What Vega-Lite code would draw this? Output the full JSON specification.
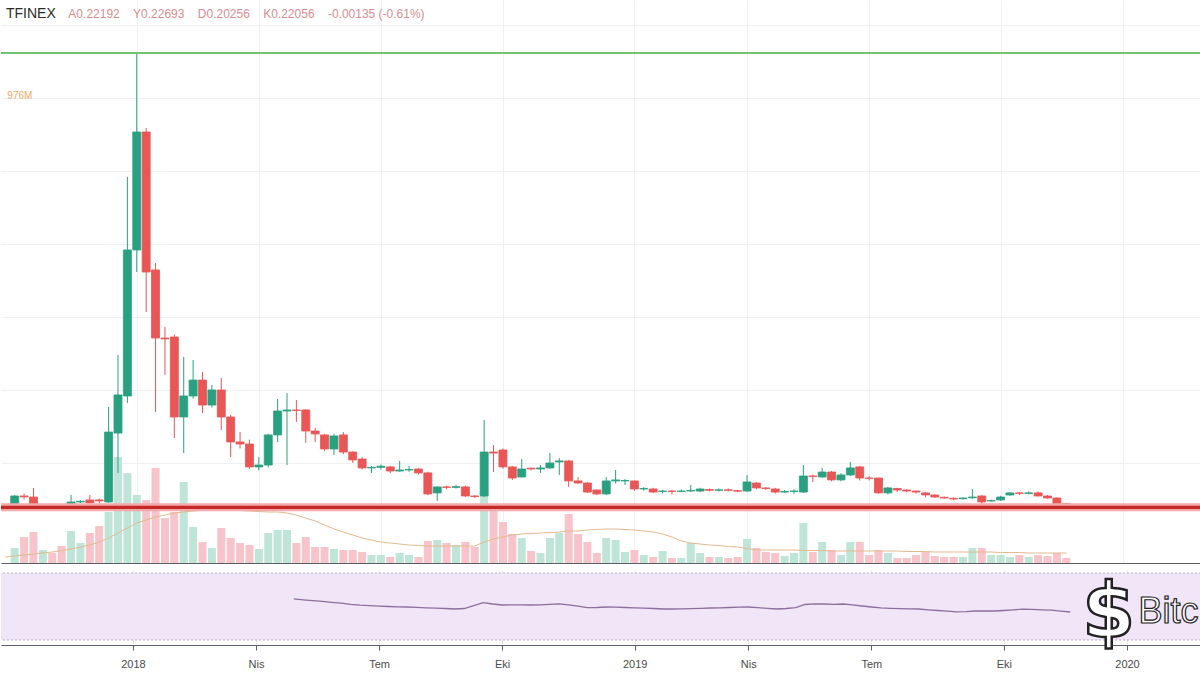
{
"$schema":"https://vega.github.io/schema/vega-lite/v6.json",
"padding":0,
"background":"white",
"config":{"view":{"stroke":null},"font":"Liberation Sans"},
"spacing":7,
"datasets":{
"candles":[
{"d":"2017-09-25","o":null,"h":null,"l":null,"c":null,"v":null,"ma":24},
{"d":"2017-10-02","o":0.219,"h":0.280,"l":0.212,"c":0.274,"v":60,"ma":28},
{"d":"2017-10-09","o":0.274,"h":0.290,"l":0.250,"c":0.268,"v":104,"ma":32},
{"d":"2017-10-16","o":0.267,"h":0.329,"l":0.195,"c":0.199,"v":124,"ma":36},
{"d":"2017-10-23","o":0.205,"h":0.215,"l":0.198,"c":0.208,"v":52,"ma":40},
{"d":"2017-10-30","o":0.208,"h":0.212,"l":0.200,"c":0.205,"v":40,"ma":44},
{"d":"2017-11-06","o":0.210,"h":0.220,"l":0.198,"c":0.205,"v":68,"ma":50},
{"d":"2017-11-13","o":0.199,"h":0.281,"l":0.195,"c":0.233,"v":128,"ma":56},
{"d":"2017-11-20","o":0.233,"h":0.245,"l":0.226,"c":0.238,"v":80,"ma":64},
{"d":"2017-11-27","o":0.247,"h":0.281,"l":0.220,"c":0.226,"v":120,"ma":72},
{"d":"2017-12-04","o":0.247,"h":0.255,"l":0.225,"c":0.240,"v":148,"ma":84},
{"d":"2017-12-11","o":0.233,"h":0.884,"l":0.226,"c":0.712,"v":204,"ma":100},
{"d":"2017-12-18","o":0.705,"h":1.240,"l":0.432,"c":0.966,"v":424,"ma":120},
{"d":"2017-12-25","o":0.959,"h":2.459,"l":0.911,"c":1.959,"v":360,"ma":140},
{"d":"2018-01-01","o":1.959,"h":3.308,"l":1.808,"c":2.767,"v":272,"ma":160},
{"d":"2018-01-08","o":2.767,"h":2.795,"l":1.534,"c":1.808,"v":252,"ma":172},
{"d":"2018-01-15","o":1.822,"h":1.870,"l":0.849,"c":1.356,"v":380,"ma":184},
{"d":"2018-01-22","o":1.356,"h":1.432,"l":1.103,"c":1.350,"v":180,"ma":192},
{"d":"2018-01-29","o":1.363,"h":1.380,"l":0.671,"c":0.815,"v":204,"ma":200},
{"d":"2018-02-05","o":0.815,"h":1.226,"l":0.568,"c":0.959,"v":324,"ma":204},
{"d":"2018-02-12","o":0.959,"h":1.205,"l":0.940,"c":1.068,"v":144,"ma":208},
{"d":"2018-02-19","o":1.068,"h":1.123,"l":0.842,"c":0.897,"v":84,"ma":210},
{"d":"2018-02-26","o":0.897,"h":1.034,"l":0.880,"c":1.000,"v":60,"ma":212},
{"d":"2018-03-05","o":1.000,"h":1.082,"l":0.726,"c":0.815,"v":140,"ma":212},
{"d":"2018-03-12","o":0.815,"h":0.830,"l":0.541,"c":0.644,"v":100,"ma":212},
{"d":"2018-03-19","o":0.644,"h":0.712,"l":0.600,"c":0.630,"v":80,"ma":210},
{"d":"2018-03-26","o":0.630,"h":0.660,"l":0.460,"c":0.473,"v":72,"ma":208},
{"d":"2018-04-02","o":0.473,"h":0.541,"l":0.450,"c":0.486,"v":56,"ma":206},
{"d":"2018-04-09","o":0.486,"h":0.700,"l":0.470,"c":0.692,"v":120,"ma":204},
{"d":"2018-04-16","o":0.692,"h":0.938,"l":0.644,"c":0.856,"v":132,"ma":204},
{"d":"2018-04-23","o":0.856,"h":0.979,"l":0.486,"c":0.863,"v":132,"ma":200},
{"d":"2018-04-30","o":0.863,"h":0.932,"l":0.781,"c":0.860,"v":80,"ma":192},
{"d":"2018-05-07","o":0.863,"h":0.870,"l":0.637,"c":0.719,"v":104,"ma":180},
{"d":"2018-05-14","o":0.719,"h":0.740,"l":0.644,"c":0.699,"v":64,"ma":168},
{"d":"2018-05-21","o":0.692,"h":0.700,"l":0.580,"c":0.596,"v":64,"ma":152},
{"d":"2018-05-28","o":0.596,"h":0.700,"l":0.555,"c":0.685,"v":56,"ma":136},
{"d":"2018-06-04","o":0.692,"h":0.712,"l":0.560,"c":0.575,"v":52,"ma":124},
{"d":"2018-06-11","o":0.575,"h":0.580,"l":0.500,"c":0.521,"v":52,"ma":112},
{"d":"2018-06-18","o":0.527,"h":0.540,"l":0.455,"c":0.466,"v":44,"ma":100},
{"d":"2018-06-25","o":0.466,"h":0.480,"l":0.432,"c":0.470,"v":32,"ma":92},
{"d":"2018-07-02","o":0.470,"h":0.490,"l":0.455,"c":0.478,"v":32,"ma":84},
{"d":"2018-07-09","o":0.473,"h":0.480,"l":0.430,"c":0.445,"v":24,"ma":80},
{"d":"2018-07-16","o":0.445,"h":0.514,"l":0.440,"c":0.452,"v":40,"ma":76},
{"d":"2018-07-23","o":0.452,"h":0.479,"l":0.440,"c":0.455,"v":32,"ma":72},
{"d":"2018-07-30","o":0.459,"h":0.465,"l":0.420,"c":0.432,"v":24,"ma":70},
{"d":"2018-08-06","o":0.432,"h":0.440,"l":0.280,"c":0.288,"v":88,"ma":68},
{"d":"2018-08-13","o":0.295,"h":0.340,"l":0.240,"c":0.336,"v":92,"ma":68},
{"d":"2018-08-20","o":0.336,"h":0.345,"l":0.320,"c":0.333,"v":80,"ma":68},
{"d":"2018-08-27","o":0.333,"h":0.350,"l":0.325,"c":0.338,"v":72,"ma":68},
{"d":"2018-09-03","o":0.336,"h":0.345,"l":0.268,"c":0.274,"v":84,"ma":68},
{"d":"2018-09-10","o":0.274,"h":0.280,"l":0.260,"c":0.270,"v":64,"ma":68},
{"d":"2018-09-17","o":0.274,"h":0.795,"l":0.267,"c":0.575,"v":292,"ma":84},
{"d":"2018-09-24","o":0.575,"h":0.623,"l":0.438,"c":0.568,"v":220,"ma":96},
{"d":"2018-10-01","o":0.589,"h":0.600,"l":0.460,"c":0.473,"v":164,"ma":104},
{"d":"2018-10-08","o":0.473,"h":0.480,"l":0.384,"c":0.397,"v":116,"ma":112},
{"d":"2018-10-15","o":0.404,"h":0.527,"l":0.400,"c":0.459,"v":100,"ma":116},
{"d":"2018-10-22","o":0.464,"h":0.470,"l":0.450,"c":0.459,"v":48,"ma":118},
{"d":"2018-10-29","o":0.459,"h":0.486,"l":0.432,"c":0.466,"v":40,"ma":120},
{"d":"2018-11-05","o":0.466,"h":0.568,"l":0.460,"c":0.500,"v":100,"ma":122},
{"d":"2018-11-12","o":0.507,"h":0.534,"l":0.418,"c":0.514,"v":120,"ma":124},
{"d":"2018-11-19","o":0.514,"h":0.520,"l":0.336,"c":0.377,"v":196,"ma":128},
{"d":"2018-11-26","o":0.377,"h":0.404,"l":0.355,"c":0.363,"v":116,"ma":128},
{"d":"2018-12-03","o":0.363,"h":0.370,"l":0.295,"c":0.301,"v":84,"ma":132},
{"d":"2018-12-10","o":0.315,"h":0.320,"l":0.280,"c":0.288,"v":40,"ma":134},
{"d":"2018-12-17","o":0.288,"h":0.404,"l":0.280,"c":0.377,"v":100,"ma":136},
{"d":"2018-12-24","o":0.377,"h":0.452,"l":0.360,"c":0.384,"v":92,"ma":136},
{"d":"2018-12-31","o":0.377,"h":0.390,"l":0.350,"c":0.380,"v":44,"ma":134},
{"d":"2019-01-07","o":0.377,"h":0.380,"l":0.310,"c":0.322,"v":52,"ma":132},
{"d":"2019-01-14","o":0.322,"h":0.335,"l":0.310,"c":0.325,"v":32,"ma":128},
{"d":"2019-01-21","o":0.322,"h":0.330,"l":0.295,"c":0.301,"v":24,"ma":124},
{"d":"2019-01-28","o":0.305,"h":0.315,"l":0.290,"c":0.308,"v":48,"ma":116},
{"d":"2019-02-04","o":0.308,"h":0.315,"l":0.285,"c":0.305,"v":20,"ma":104},
{"d":"2019-02-11","o":0.305,"h":0.320,"l":0.300,"c":0.308,"v":20,"ma":88},
{"d":"2019-02-18","o":0.308,"h":0.349,"l":0.300,"c":0.312,"v":80,"ma":80},
{"d":"2019-02-25","o":0.308,"h":0.330,"l":0.300,"c":0.322,"v":40,"ma":76},
{"d":"2019-03-04","o":0.318,"h":0.325,"l":0.305,"c":0.313,"v":24,"ma":72},
{"d":"2019-03-11","o":0.313,"h":0.325,"l":0.305,"c":0.316,"v":24,"ma":70},
{"d":"2019-03-18","o":0.316,"h":0.325,"l":0.305,"c":0.313,"v":20,"ma":66},
{"d":"2019-03-25","o":0.310,"h":0.315,"l":0.300,"c":0.307,"v":24,"ma":64},
{"d":"2019-04-01","o":0.308,"h":0.418,"l":0.300,"c":0.370,"v":96,"ma":58},
{"d":"2019-04-08","o":0.363,"h":0.370,"l":0.320,"c":0.329,"v":60,"ma":52},
{"d":"2019-04-15","o":0.329,"h":0.335,"l":0.315,"c":0.325,"v":44,"ma":52},
{"d":"2019-04-22","o":0.322,"h":0.330,"l":0.290,"c":0.301,"v":40,"ma":52},
{"d":"2019-04-29","o":0.301,"h":0.315,"l":0.295,"c":0.305,"v":28,"ma":52},
{"d":"2019-05-06","o":0.305,"h":0.320,"l":0.290,"c":0.308,"v":40,"ma":52},
{"d":"2019-05-13","o":0.301,"h":0.486,"l":0.295,"c":0.411,"v":160,"ma":50},
{"d":"2019-05-20","o":0.411,"h":0.420,"l":0.370,"c":0.408,"v":44,"ma":50},
{"d":"2019-05-27","o":0.404,"h":0.466,"l":0.400,"c":0.438,"v":84,"ma":50},
{"d":"2019-06-03","o":0.438,"h":0.445,"l":0.375,"c":0.384,"v":52,"ma":48},
{"d":"2019-06-10","o":0.384,"h":0.430,"l":0.375,"c":0.418,"v":32,"ma":48},
{"d":"2019-06-17","o":0.418,"h":0.507,"l":0.410,"c":0.466,"v":84,"ma":48},
{"d":"2019-06-24","o":0.473,"h":0.480,"l":0.380,"c":0.397,"v":84,"ma":48},
{"d":"2019-07-01","o":0.397,"h":0.410,"l":0.380,"c":0.395,"v":32,"ma":48},
{"d":"2019-07-08","o":0.397,"h":0.400,"l":0.290,"c":0.295,"v":52,"ma":48},
{"d":"2019-07-15","o":0.295,"h":0.335,"l":0.285,"c":0.329,"v":40,"ma":48},
{"d":"2019-07-22","o":0.325,"h":0.330,"l":0.300,"c":0.315,"v":20,"ma":48},
{"d":"2019-07-29","o":0.315,"h":0.320,"l":0.300,"c":0.308,"v":20,"ma":46},
{"d":"2019-08-05","o":0.308,"h":0.310,"l":0.290,"c":0.301,"v":32,"ma":46},
{"d":"2019-08-12","o":0.295,"h":0.300,"l":0.265,"c":0.281,"v":44,"ma":46},
{"d":"2019-08-19","o":0.281,"h":0.285,"l":0.260,"c":0.267,"v":28,"ma":44},
{"d":"2019-08-26","o":0.265,"h":0.270,"l":0.255,"c":0.260,"v":24,"ma":44},
{"d":"2019-09-02","o":0.258,"h":0.265,"l":0.245,"c":0.253,"v":24,"ma":44},
{"d":"2019-09-09","o":0.255,"h":0.265,"l":0.250,"c":0.260,"v":24,"ma":44},
{"d":"2019-09-16","o":0.262,"h":0.322,"l":0.255,"c":0.267,"v":60,"ma":44},
{"d":"2019-09-23","o":0.274,"h":0.280,"l":0.220,"c":0.233,"v":60,"ma":44},
{"d":"2019-09-30","o":0.240,"h":0.250,"l":0.235,"c":0.242,"v":32,"ma":44},
{"d":"2019-10-07","o":0.247,"h":0.275,"l":0.240,"c":0.267,"v":32,"ma":42},
{"d":"2019-10-14","o":0.281,"h":0.300,"l":0.275,"c":0.295,"v":24,"ma":42},
{"d":"2019-10-21","o":0.295,"h":0.300,"l":0.280,"c":0.292,"v":32,"ma":42},
{"d":"2019-10-28","o":0.292,"h":0.305,"l":0.285,"c":0.295,"v":24,"ma":40},
{"d":"2019-11-04","o":0.295,"h":0.305,"l":0.270,"c":0.274,"v":32,"ma":40},
{"d":"2019-11-11","o":0.274,"h":0.280,"l":0.255,"c":0.260,"v":28,"ma":40},
{"d":"2019-11-18","o":0.260,"h":0.265,"l":0.215,"c":0.222,"v":40,"ma":40},
{"d":"2019-11-25","o":0.22192,"h":0.22693,"l":0.20256,"c":0.22056,"v":20,"ma":40}
],
"rsi":[
{"d":"2018-04-30","r":54.5},{"d":"2018-05-07","r":54.0},{"d":"2018-05-14","r":53.5},{"d":"2018-05-21","r":53.0},
{"d":"2018-05-28","r":52.5},{"d":"2018-06-04","r":52.0},{"d":"2018-06-11","r":51.3},{"d":"2018-06-18","r":50.8},
{"d":"2018-06-25","r":50.5},{"d":"2018-07-02","r":50.2},{"d":"2018-07-09","r":50.0},{"d":"2018-07-16","r":49.8},
{"d":"2018-07-23","r":49.7},{"d":"2018-07-30","r":49.5},{"d":"2018-08-06","r":49.2},{"d":"2018-08-13","r":49.0},
{"d":"2018-08-20","r":48.8},{"d":"2018-08-27","r":48.5},{"d":"2018-09-03","r":48.8},{"d":"2018-09-10","r":50.5},
{"d":"2018-09-17","r":52.3},{"d":"2018-09-24","r":51.5},{"d":"2018-10-01","r":50.9},{"d":"2018-10-08","r":51.0},
{"d":"2018-10-15","r":51.0},{"d":"2018-10-22","r":50.9},{"d":"2018-10-29","r":51.0},{"d":"2018-11-05","r":51.3},
{"d":"2018-11-12","r":51.6},{"d":"2018-11-19","r":51.0},{"d":"2018-11-26","r":50.2},{"d":"2018-12-03","r":49.3},
{"d":"2018-12-10","r":49.4},{"d":"2018-12-17","r":49.7},{"d":"2018-12-24","r":49.6},{"d":"2018-12-31","r":49.4},
{"d":"2019-01-07","r":49.2},{"d":"2019-01-14","r":49.0},{"d":"2019-01-21","r":48.8},{"d":"2019-01-28","r":48.5},
{"d":"2019-02-04","r":48.5},{"d":"2019-02-11","r":48.6},{"d":"2019-02-18","r":48.7},{"d":"2019-02-25","r":48.9},
{"d":"2019-03-04","r":49.1},{"d":"2019-03-11","r":49.2},{"d":"2019-03-18","r":49.4},{"d":"2019-03-25","r":49.6},
{"d":"2019-04-01","r":49.7},{"d":"2019-04-08","r":49.3},{"d":"2019-04-15","r":48.9},{"d":"2019-04-22","r":48.5},
{"d":"2019-04-29","r":48.8},{"d":"2019-05-06","r":49.3},{"d":"2019-05-13","r":51.2},{"d":"2019-05-20","r":51.6},
{"d":"2019-05-27","r":51.5},{"d":"2019-06-03","r":51.3},{"d":"2019-06-10","r":51.5},{"d":"2019-06-17","r":51.0},
{"d":"2019-06-24","r":50.3},{"d":"2019-07-01","r":49.7},{"d":"2019-07-08","r":49.2},{"d":"2019-07-15","r":48.9},
{"d":"2019-07-22","r":48.7},{"d":"2019-07-29","r":48.6},{"d":"2019-08-05","r":48.5},{"d":"2019-08-12","r":48.0},
{"d":"2019-08-19","r":47.6},{"d":"2019-08-26","r":47.2},{"d":"2019-09-02","r":46.8},{"d":"2019-09-09","r":46.9},
{"d":"2019-09-16","r":47.3},{"d":"2019-09-23","r":47.3},{"d":"2019-09-30","r":47.3},{"d":"2019-10-07","r":47.6},
{"d":"2019-10-14","r":48.0},{"d":"2019-10-21","r":48.4},{"d":"2019-10-28","r":48.3},{"d":"2019-11-04","r":48.0},
{"d":"2019-11-11","r":47.8},{"d":"2019-11-18","r":47.2},{"d":"2019-11-25","r":46.7}
]
},
"vconcat":[
{
"width":1200,"height":563,
"layer":[
{
"data":{"name":"candles"},
"layer":[
{"mark":{"type":"bar","width":8,"clip":true},
 "encoding":{
  "x":{"field":"d","type":"temporal","scale":{"type":"utc","domain":[{"year":2017,"month":9,"date":25,"hours":12,"utc":true},{"year":2020,"month":2,"date":29,"hours":17,"utc":true}]},
       "axis":{"values":[{"year":2018,"month":1,"date":1,"utc":true},{"year":2018,"month":4,"date":2,"utc":true},{"year":2018,"month":7,"date":2,"utc":true},{"year":2018,"month":10,"date":1,"utc":true},{"year":2019,"month":1,"date":7,"utc":true},{"year":2019,"month":4,"date":1,"utc":true},{"year":2019,"month":7,"date":1,"utc":true},{"year":2019,"month":10,"date":7,"utc":true},{"year":2020,"month":1,"date":6,"utc":true}],
               "labels":false,"ticks":false,"domain":true,"domainColor":"#5d606b","grid":true,"gridColor":"#eef0f3","title":null}},
  "y":{"field":"v","type":"quantitative","scale":{"domain":[0,2252],"nice":false,"zero":true},"axis":null},
  "color":{"condition":{"test":"datum.c >= datum.o","value":"#bfe5d8"},"value":"#f6c4ca"}
 }},
{"mark":{"type":"line","color":"#e4b98e","strokeWidth":1,"clip":true},
 "encoding":{
  "x":{"field":"d","type":"temporal"},
  "y":{"field":"ma","type":"quantitative"}
 }}
]
},
{
"layer":[
{"data":{"name":"candles"},
 "mark":{"type":"rule","strokeWidth":1,"clip":true},
 "encoding":{
  "x":{"field":"d","type":"temporal"},
  "y":{"field":"l","type":"quantitative","scale":{"domain":[-0.185,3.671],"nice":false,"zero":false},
       "axis":{"values":[0.5,1,1.5,2,2.5,3,3.5],"labels":false,"ticks":false,"domain":false,"grid":true,"gridColor":"#eef0f3","title":null}},
  "y2":{"field":"h"},
  "color":{"condition":{"test":"datum.c >= datum.o","value":"#29a080"},"value":"#e85656"}
 }},
{"data":{"name":"candles"},
 "mark":{"type":"bar","width":8,"strokeWidth":0.8,"clip":true},
 "encoding":{
  "x":{"field":"d","type":"temporal"},
  "y":{"field":"o","type":"quantitative"},
  "y2":{"field":"c"},
  "fill":{"condition":{"test":"datum.c >= datum.o","value":"#29a080"},"value":"#e85656"},
  "stroke":{"condition":{"test":"datum.c >= datum.o","value":"#29a080"},"value":"#e85656"}
 }},
{"data":{"values":[{}]},
 "mark":{"type":"rect","color":"#f4a9a9"},
 "encoding":{"y":{"datum":0.2234,"type":"quantitative"},"y2":{"datum":0.1686}}},
{"data":{"values":[{}]},
 "mark":{"type":"rect","color":"#c62828"},
 "encoding":{"y":{"datum":0.2063,"type":"quantitative"},"y2":{"datum":0.1857}}},
{"data":{"values":[{}]},
 "mark":{"type":"rect","color":"#72c472"},
 "encoding":{"y":{"datum":3.315,"type":"quantitative"},"y2":{"datum":3.301}}},
{"data":{"values":[{}]},
 "mark":{"type":"text","text":"TFINEX","align":"left","baseline":"middle","fontSize":14,"color":"#2b2b2b"},
 "encoding":{"x":{"datum":{"year":2017,"month":9,"date":25,"hours":12,"utc":true},"type":"temporal"},"y":{"datum":3.575,"type":"quantitative"}}},
{"data":{"values":[{}]},
 "mark":{"type":"text","text":"A0.22192\u00a0\u00a0\u00a0\u00a0Y0.22693\u00a0\u00a0\u00a0\u00a0D0.20256\u00a0\u00a0\u00a0\u00a0K0.22056\u00a0\u00a0\u00a0\u00a0-0.00135 (-0.61%)","align":"left","baseline":"middle","fontSize":12,"color":"#d98c90"},
 "encoding":{"x":{"datum":{"year":2017,"month":11,"date":11,"utc":true},"type":"temporal"},"y":{"datum":3.575,"type":"quantitative"}}},
{"data":{"values":[{}]},
 "mark":{"type":"text","text":"976M","align":"left","baseline":"middle","fontSize":10,"color":"#f0a868"},
 "encoding":{"x":{"datum":{"year":2017,"month":9,"date":26,"hours":12,"utc":true},"type":"temporal"},"y":{"datum":3.014,"type":"quantitative"}}}
]
}
],
"resolve":{"scale":{"y":"independent"}}
},
{
"width":1200,"height":75,
"layer":[
{"data":{"values":[{}]},
 "mark":{"type":"rect","color":"#f1e5f8"},
 "encoding":{"y":{"datum":70,"type":"quantitative","scale":{"domain":[27,71.8],"nice":false,"zero":false},"axis":{"labels":false,"ticks":false,"domain":false,"grid":false,"title":null}},"y2":{"datum":30}}},
{"data":{"values":[{}]},
 "mark":{"type":"rule","color":"#b9aac4","strokeWidth":1,"strokeDash":[2,2]},
 "encoding":{"y":{"datum":70,"type":"quantitative"}}},
{"data":{"values":[{}]},
 "mark":{"type":"rule","color":"#b9aac4","strokeWidth":1,"strokeDash":[2,2]},
 "encoding":{"y":{"datum":30,"type":"quantitative"}}},
{"data":{"name":"rsi"},
 "mark":{"type":"line","color":"#8c6f9c","strokeWidth":1.3},
 "encoding":{
  "x":{"field":"d","type":"temporal","scale":{"type":"utc","domain":[{"year":2017,"month":9,"date":25,"hours":12,"utc":true},{"year":2020,"month":2,"date":29,"hours":17,"utc":true}]},
       "axis":{"values":[{"year":2018,"month":1,"date":1,"utc":true},{"year":2018,"month":4,"date":2,"utc":true},{"year":2018,"month":7,"date":2,"utc":true},{"year":2018,"month":10,"date":1,"utc":true},{"year":2019,"month":1,"date":7,"utc":true},{"year":2019,"month":4,"date":1,"utc":true},{"year":2019,"month":7,"date":1,"utc":true},{"year":2019,"month":10,"date":7,"utc":true},{"year":2020,"month":1,"date":6,"utc":true}],
               "labelExpr":"utcmonth(datum.value) == 0 ? utcFormat(datum.value, '%Y') : utcmonth(datum.value) == 3 ? 'Nis' : utcmonth(datum.value) == 6 ? 'Tem' : 'Eki'",
               "title":null,"grid":true,"gridColor":"#ebe4ef","domainColor":"#5d606b","tickColor":"#5d606b","tickSize":5,"labelPadding":8,"labelFontSize":11,"labelColor":"#4a4a4a","labelFlush":false}},
  "y":{"field":"r","type":"quantitative"}
 }},
{"data":{"values":[{}]},
 "mark":{"type":"text","text":"$","align":"center","baseline":"middle","fontSize":76,"fontWeight":"bold","font":"DejaVu Sans","fill":"white","stroke":"#222222","strokeWidth":2.5},
 "encoding":{"x":{"datum":{"year":2019,"month":12,"date":23,"hours":12,"utc":true},"type":"temporal"},"y":{"datum":45.5,"type":"quantitative"}}},
{"data":{"values":[{}]},
 "mark":{"type":"text","text":"Bitc","align":"left","baseline":"middle","fontSize":36,"fill":"white","stroke":"#222222","strokeWidth":1.2},
 "encoding":{"x":{"datum":{"year":2020,"month":1,"date":14,"hours":12,"utc":true},"type":"temporal"},"y":{"datum":46.7,"type":"quantitative"}}}
]
}
]
}
